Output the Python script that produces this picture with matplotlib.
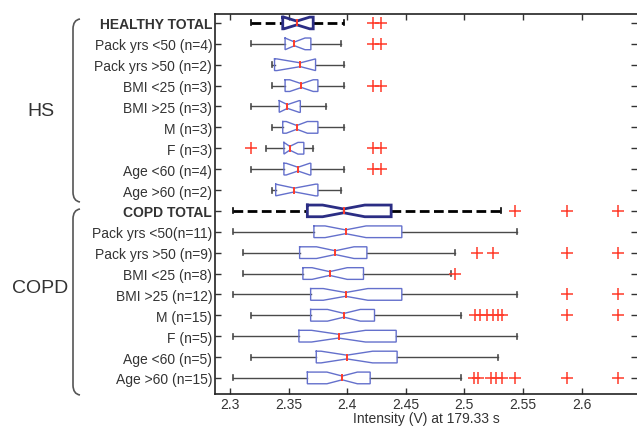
import matplotlib
matplotlib.use("Agg")
import matplotlib.pyplot as plt
from matplotlib.patches import PathPatch
from matplotlib.path import Path

plt.rcParams['font.family'] = ['Liberation Sans', 'DejaVu Sans']

labels = ["HEALTHY TOTAL", "Pack yrs <50 (n=4)", "Pack yrs >50 (n=2)", "BMI <25 (n=3)",
          "BMI >25 (n=3)", "M (n=3)", "F (n=3)", "Age <60 (n=4)", "Age >60 (n=2)",
          "COPD TOTAL", "Pack yrs <50(n=11)", "Pack yrs >50 (n=9)", "BMI <25 (n=8)",
          "BMI >25 (n=12)", "M (n=15)", "F (n=5)", "Age <60 (n=5)", "Age >60 (n=15)"]

whislo = [2.318, 2.318, 2.336, 2.336, 2.318, 2.336, 2.331, 2.318, 2.336,
          2.3025, 2.3025, 2.311, 2.311, 2.3025, 2.3176, 2.3025, 2.3176, 2.3025]
q1 = [2.345, 2.347, 2.338, 2.347, 2.342, 2.345, 2.346, 2.346, 2.339,
      2.366, 2.3716, 2.3594, 2.3622, 2.3688, 2.3688, 2.3588, 2.3736, 2.366]
med = [2.357, 2.355, 2.360, 2.361, 2.349, 2.357, 2.351, 2.358, 2.355,
       2.397, 2.3986, 2.3898, 2.385, 2.3986, 2.3972, 2.3926, 2.3997, 2.3957]
q3 = [2.371, 2.369, 2.373, 2.375, 2.360, 2.375, 2.363, 2.369, 2.375,
      2.4375, 2.4466, 2.4168, 2.4139, 2.4466, 2.4233, 2.4418, 2.4426, 2.4196]
whishi = [2.397, 2.395, 2.397, 2.397, 2.382, 2.397, 2.371, 2.397, 2.395,
          2.531, 2.5446, 2.4923, 2.4886, 2.5446, 2.4972, 2.5446, 2.529, 2.4972]
notch = [0.011, 0.009, 0.02, 0.01, 0.01, 0.009, 0.007, 0.01, 0.018,
         0.018, 0.0175, 0.016, 0.015, 0.019, 0.014, 0.023, 0.022, 0.013]
fliers = [[2.422, 2.429], [2.422, 2.429], [], [2.422, 2.429], [], [],
          [2.318, 2.422, 2.429], [2.422, 2.429], [],
          [2.5435, 2.5875, 2.6307], [], [2.5108, 2.5247, 2.5875, 2.6307], [2.4923],
          [2.5875, 2.6307], [2.509, 2.513, 2.519, 2.524, 2.529, 2.532, 2.5875, 2.6307],
          [], [], [2.5085, 2.5114, 2.523, 2.527, 2.532, 2.5435, 2.5875, 2.6307]]
totals = ["HEALTHY TOTAL", "COPD TOTAL"]
xticks = [2.3, 2.35, 2.4, 2.45, 2.5, 2.55, 2.6]

W, H = 637, 427
fig = plt.figure(figsize=(W / 100, H / 100), dpi=100)
ax = fig.add_axes([215 / W, 1 - 395 / H, 1 - 215 / W, 380 / H])

bw = 0.56       # box height
pinch = 0.09    # half height at notch
capw = 0.12
box_c = '#6470cc'
tot_c = '#2b2d84'
whisk_c = '#4a4a4a'
red = '#ff3b2a'

for i, lab in enumerate(labels):
    y = i
    is_tot = lab in totals
    bc = tot_c if is_tot else box_c
    blw = 2.0 if is_tot else 1.0
    wls = (0, (3.5, 1.6)) if is_tot else '-'
    wlw = 2.0 if is_tot else 1.0
    wc = 'black' if is_tot else whisk_c
    ax.plot([whislo[i], q1[i]], [y, y], color=wc, lw=wlw, ls=wls, zorder=2)
    ax.plot([q3[i], whishi[i]], [y, y], color=wc, lw=wlw, ls=wls, zorder=2)
    for xv in (whislo[i], whishi[i]):
        ax.plot([xv, xv], [y - capw, y + capw], color=wc, lw=1.2, zorder=2)
    nlo = max(med[i] - notch[i], q1[i])
    nhi = min(med[i] + notch[i], q3[i])
    xs = [q1[i], nlo, med[i], nhi, q3[i], q3[i], nhi, med[i], nlo, q1[i], q1[i]]
    ys = [y - bw / 2, y - bw / 2, y - pinch, y - bw / 2, y - bw / 2,
          y + bw / 2, y + bw / 2, y + pinch, y + bw / 2, y + bw / 2, y - bw / 2]
    ax.plot(xs, ys, color=bc, lw=blw, zorder=3, solid_joinstyle='miter')
    ax.plot([med[i], med[i]], [y - pinch - 0.03, y + pinch + 0.03], color=red,
            lw=1.4, zorder=4)
    if fliers[i]:
        ax.plot(fliers[i], [y] * len(fliers[i]), ls='none', marker='+', ms=9,
                mew=1.1, color=red, zorder=4)

ax.set_xlim(2.3 - 15 / 1172, 2.3 + 407 / 1172)
ax.set_ylim(17 + 0.77, -0.43)
ax.set_yticks(range(len(labels)))
ax.set_yticklabels(labels)
for t in ax.get_yticklabels():
    if t.get_text() in totals:
        t.set_fontweight('bold')
ax.set_xticks(xticks)
ax.set_xticklabels([f"{v:g}" for v in xticks])
ax.tick_params(direction='in', length=4, width=1, colors='#333333', labelsize=10,
               top=True, right=True, pad=3)
ax.tick_params(axis='x', pad=2)
ax.tick_params(axis='y', pad=2)
for t in ax.get_xticklabels() + ax.get_yticklabels():
    t.set_color('#333333')
ax.spines['right'].set_visible(False)
for s in ('left', 'bottom', 'top'):
    ax.spines[s].set_color('#222222')
    ax.spines[s].set_linewidth(1.2)
ax.set_xlabel("Intensity (V) at 179.33 s", fontsize=10, color='#333333', labelpad=0)

def brace(y0, y1, x=73, curl=7):
    ytop = 1 - y0 / H
    ybot = 1 - y1 / H
    xf = x / W
    xc = (x + curl) / W
    dy = 10 / H
    verts = [(xc, ytop), (xf, ytop - 1 / H), (xf, ytop - dy),
             (xf, ybot + dy),
             (xf, ybot + 1 / H), (xc, ybot)]
    codes = [Path.MOVETO, Path.CURVE3, Path.CURVE3, Path.LINETO, Path.CURVE3, Path.CURVE3]
    fig.patches.append(PathPatch(Path(verts, codes), transform=fig.transFigure,
                                 fill=False, ec='#555555', lw=1.2))

brace(20, 203)
brace(210, 396)
fig.text(41 / W, 1 - 112 / H, "HS", fontsize=14, color='#333333', ha='center', va='center')
fig.text(40 / W, 1 - 289 / H, "COPD", fontsize=14, color='#333333', ha='center', va='center')

fig.savefig("out.png", dpi=100)
